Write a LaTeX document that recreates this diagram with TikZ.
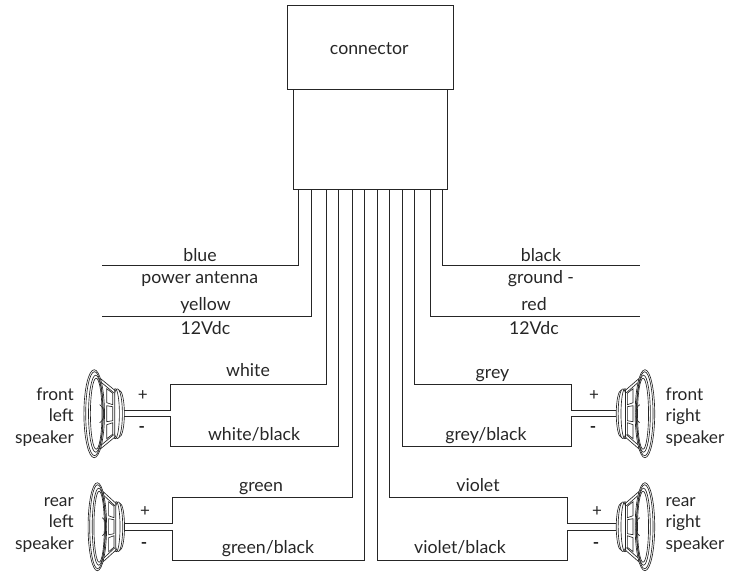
\documentclass[tikz,border=0pt]{standalone}
\usepackage{fontspec}
\setmainfont{Lato}
\tikzset{
  wire/.style={line width=1pt,black!85},
  box/.style={draw=black!85,line width=1pt,inner sep=0},
  lab/.style={font=\fontsize{17.7}{20}\selectfont,inner sep=0,text=black!85,anchor=base},
  sign/.style={font=\fontsize{17}{18}\selectfont,inner sep=0,text=black!85},
  splab/.style={font=\fontsize{17.3}{21.7}\selectfont,inner sep=0,text=black!85},
  spk/.style={line width=0.65pt,black!85},
  speaker/.pic={
    \draw[spk,fill=white] (-6.5,0) ellipse (5.2 and 23.5);
    \draw[spk,fill=white] (-8.3,0) ellipse (5 and 24.8);
    \draw[spk] (-10.5,0) ellipse (4.2 and 25);
    \draw[spk,fill=white] (-25,-35) -- (-11,-23.5) -- (-11,23.5) -- (-25,35) -- cycle;
    \draw[spk] (-24,-31) -- (-12,-21) (-24,31) -- (-12,21);
    \draw[spk] (-19,-25) -- (-13,-20.5) -- (-13,-9) -- (-19,-11) -- cycle;
    \draw[spk] (-19,-8) -- (-13,-7) -- (-13,7) -- (-19,8) -- cycle;
    \draw[spk] (-19,25) -- (-13,20.5) -- (-13,9) -- (-19,11) -- cycle;
    \draw[spk,fill=white] (-31.5,0) ellipse (10.3 and 44);
    \draw[spk] (-31.2,0) ellipse (8.8 and 42);
    \draw[spk] (-30,0) ellipse (7.2 and 38.5);
    \draw[spk] (-29.5,0) ellipse (5.8 and 35.5);
    \draw[spk] (-26,-9) .. controls (-20.5,-6) and (-20.5,6) .. (-26,9);
  }
}
\begin{document}
\begin{tikzpicture}[x=1pt,y=-1pt]
\useasboundingbox (0,0) rectangle (735,571);
% connector body
\draw[box] (293.3,89.5) rectangle (447.7,189) node[pos=0,inner sep=0] (body) {};
\node[box,minimum width=166pt,minimum height=84.6pt,anchor=north west] (head) at (287.3,4.7) {};
\node[lab] (ctext) at (369.3,54) {connector};
% wire tops on the body
\foreach \n/\x in {a/298.3,b/311,c/326.5,d/338.8,e/352,f/364,g/377,h/389,i/402.3,j/414.5,k/430.5,l/442.8}
  \coordinate (t\n) at (\x,189);
% free ends
\coordinate (eblue) at (101.5,265.5);
\coordinate (eyellow) at (102,316);
\coordinate (eblack) at (640,265.5);
\coordinate (ered) at (640,316);
% speaker terminals
\coordinate (flp) at (124,410.3); \coordinate (flm) at (124,416.8);
\coordinate (frp) at (616,410.3); \coordinate (frm) at (616,416.8);
\coordinate (rlp) at (124,523.3); \coordinate (rlm) at (124,530);
\coordinate (rrp) at (616,523.3); \coordinate (rrm) at (616,530);
% speakers
\pic at (125.7,413.7) {speaker};
\pic[xscale=0.9] at (125.7,526.7) {speaker};
\pic[xscale=-0.95] at (615,413.7) {speaker};
\pic[xscale=-0.95] at (615,526.7) {speaker};
% wires
\draw[wire] (ta) |- (eblue);
\draw[wire] (tb) |- (eyellow);
\draw[wire] (tl) |- (eblack);
\draw[wire] (tk) |- (ered);
\draw[wire] (tc) |- (170,384) -- (170,410.3) -- (flp);
\draw[wire] (td) |- (170,446.8) -- (170,416.8) -- (flm);
\draw[wire] (te) |- (172.7,497.3) -- (172.7,523.3) -- (rlp);
\draw[wire] (tf) |- (172.7,560) -- (172.7,530) -- (rlm);
\draw[wire] (tj) |- (571,384) -- (571,410.3) -- (frp);
\draw[wire] (ti) |- (571,446.8) -- (571,416.8) -- (frm);
\draw[wire] (th) |- (567.7,497.3) -- (567.7,523.3) -- (rrp);
\draw[wire] (tg) |- (567.7,560) -- (567.7,530) -- (rrm);
% wire labels
\node[lab] (l1) at (200,261) {blue};
\node[lab] (l2) at (199.7,283) {power antenna};
\node[lab] (l3) at (205.5,310.7) {yellow};
\node[lab] (l4) at (205.5,334.5) {12Vdc};
\node[lab] (r1) at (541,261) {black};
\node[lab] (r2) at (541,283) {ground -};
\node[lab] (r3) at (534,310.7) {red};
\node[lab] (r4) at (534,334.5) {12Vdc};
\node[lab] (w1) at (248,376.7) {white};
\node[lab] (w2) at (254,440) {white/black};
\node[lab] (w3) at (261,491.7) {green};
\node[lab] (w4) at (268,553.3) {green/black};
\node[lab] (g1) at (492.5,378) {grey};
\node[lab] (g2) at (486,440) {grey/black};
\node[lab] (g3) at (478,491.7) {violet};
\node[lab] (g4) at (460,553.3) {violet/black};
% signs
\node[sign] (s1) at (142.7,396) {+};
\node[sign,font=\fontsize{17}{18}\selectfont\bfseries] (s2) at (141.7,429) {-};
\node[sign] (s3) at (594,396) {+};
\node[sign,font=\fontsize{17}{18}\selectfont\bfseries] (s4) at (593,429) {-};
\node[sign] (s5) at (145,512) {+};
\node[sign,font=\fontsize{17}{18}\selectfont\bfseries] (s6) at (144,545) {-};
\node[sign] (s7) at (597,512) {+};
\node[sign,font=\fontsize{17}{18}\selectfont\bfseries] (s8) at (596,545) {-};
% speaker labels
\node[splab,align=right,anchor=east] (n1) at (74,417) {front\\left\\speaker};
\node[splab,align=right,anchor=east] (n2) at (74,525) {rear\\left\\speaker};
\node[splab,align=left,anchor=west] (n3) at (665.5,417) {front\\right\\speaker};
\node[splab,align=left,anchor=west] (n4) at (665.5,525) {rear\\right\\speaker};
\end{tikzpicture}
\end{document}
